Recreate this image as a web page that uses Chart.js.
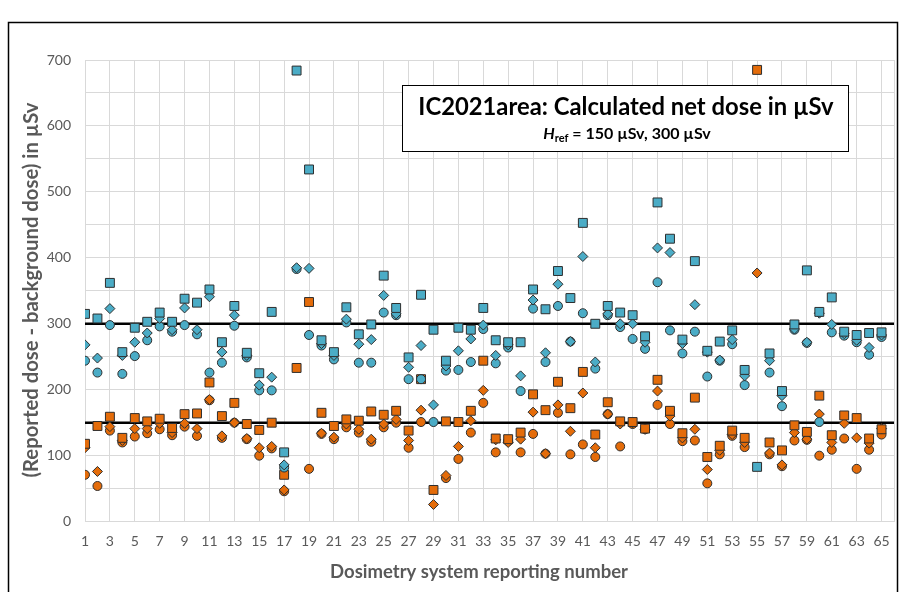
<!DOCTYPE html>
<html><head><meta charset="utf-8">
<script src="https://cdn.jsdelivr.net/npm/chart.js@4.4.0/dist/chart.umd.min.js"></script>
<style>html,body{margin:0;padding:0;background:#fff;}#wrap{width:905px;height:592px;}</style>
</head><body><div id="wrap"><canvas id="c" width="905" height="592"></canvas></div>
<script>
// ---- data ----
const systems = [1,2,3,4,5,6,7,8,9,10,11,12,13,14,15,16,17,18,19,20,21,22,23,24,25,26,27,28,29,30,31,32,33,34,35,36,37,38,39,40,41,42,43,44,45,46,47,48,49,50,51,52,53,54,55,56,57,58,59,60,61,62,63,64,65];
// Href = 300 µSv (blue)
const h300Square  = [315,308,362,257,294,303,317,303,338,332,352,272,327,256,225,318,105,684,534,275,257,325,284,299,373,324,249,344,291,244,294,291,324,275,272,272,352,322,380,339,453,300,327,317,313,281,484,429,276,395,259,273,290,230,83,255,198,299,381,318,340,288,283,286,287];
const h300Diamond = [268,248,323,252,272,286,308,291,324,291,341,257,313,252,207,219,86,385,384,270,252,307,269,276,343,315,234,267,177,236,259,277,298,252,268,221,336,256,360,273,402,242,315,300,300,272,415,408,270,329,257,245,276,221,null,244,191,292,272,316,299,285,275,264,283];
const h300Circle  = [244,226,298,224,251,275,296,288,298,284,226,241,297,249,199,199,82,383,283,267,246,302,241,241,317,313,216,216,151,229,230,242,292,240,264,198,323,242,327,273,316,232,313,295,277,262,363,290,255,288,220,244,269,207,null,226,175,291,271,151,287,282,272,253,280];
// Href = 150 µSv (orange)
const h150Square  = [118,145,159,127,157,152,156,142,163,164,211,160,180,148,139,150,71,233,333,165,145,155,153,167,162,168,138,216,48,152,151,168,244,126,125,135,193,169,212,172,227,132,181,152,151,141,215,168,134,188,98,115,138,127,685,120,108,146,136,191,131,161,157,126,140];
const h150Diamond = [112,76,144,123,141,141,149,135,149,141,185,130,150,126,112,114,48,null,null,134,128,148,140,125,148,155,123,169,26,70,114,153,199,124,120,125,166,103,177,137,195,112,163,148,150,140,198,160,127,140,79,108,132,120,377,104,86,135,125,163,120,149,127,119,141];
const h150Circle  = [71,54,138,120,129,134,140,131,144,130,184,127,150,125,100,111,46,null,80,133,125,143,135,121,143,150,112,151,null,66,95,135,180,105,122,105,133,103,165,102,117,98,163,114,148,140,177,148,122,123,58,102,130,113,null,102,84,123,124,100,109,126,80,109,132];
const referenceDoses = [150, 300];
const xTicks = [1,3,5,7,9,11,13,15,17,19,21,23,25,27,29,31,33,35,37,39,41,43,45,47,49,51,53,55,57,59,61,63,65];
const yTicks = [0,100,200,300,400,500,600,700];
const titleText = 'IC2021area: Calculated net dose in µSv';
const xTitle = 'Dosimetry system reporting number';
const yTitle = '(Reported dose - background dose) in µSv';

const BLUE = '#4BACC6', ORANGE = '#E46C0A', EDGE = '#2e2e2e', GRID = '#d9d9d9', TXT = '#595959';
const FONT = 'Lato, "Open Sans", sans-serif';

const pts = arr => systems.map((s, i) => ({x: s, y: arr[i]})).filter(p => p.y !== null);
function series(label, arr, color, style, r) {
  return {type: 'scatter', label, data: pts(arr), backgroundColor: color, borderColor: EDGE,
    borderWidth: 1, pointStyle: style, pointRadius: r, pointHoverRadius: r, order: 1};
}
const datasets = [
  series('300 square', h300Square, BLUE, 'rect', 6.3),
  series('300 diamond', h300Diamond, BLUE, 'rectRot', 5),
  series('300 circle', h300Circle, BLUE, 'circle', 4.5),
  series('150 square', h150Square, ORANGE, 'rect', 6.3),
  series('150 diamond', h150Diamond, ORANGE, 'rectRot', 5),
  series('150 circle', h150Circle, ORANGE, 'circle', 4.5),
];
referenceDoses.forEach(v => datasets.push({type: 'line', label: 'ref ' + v,
  data: [{x: 1, y: v}, {x: 66, y: v}], borderColor: '#000', borderWidth: 2.5,
  pointRadius: 0, fill: false, order: 10}));

function fitFont(ctx, text, weight, size, target) {
  ctx.font = weight + ' ' + size + 'px ' + FONT;
  const w = ctx.measureText(text).width;
  return size * target / w;
}

const decor = {
  id: 'decor',
  afterDraw(chart) {
    const ctx = chart.ctx;
    ctx.save();
    // outer frame
    ctx.strokeStyle = '#000'; ctx.lineWidth = 1.5;
    ctx.strokeRect(8.5, 22.5, 889, 600);
    // title box
    ctx.fillStyle = '#fff'; ctx.fillRect(402, 85, 446, 66);
    ctx.strokeStyle = '#000'; ctx.lineWidth = 1;
    ctx.strokeRect(402.5, 85.5, 446, 66);
    ctx.fillStyle = '#000'; ctx.textAlign = 'center'; ctx.textBaseline = 'middle';
    let fs = fitFont(ctx, titleText, 'bold', 20, 415);
    ctx.font = 'bold ' + fs.toFixed(1) + 'px ' + FONT;
    ctx.fillText(titleText, 626, 107);
    // subtitle: H_ref = 150 µSv, 300 µSv
    const parts = [
      {t: 'H', f: 'italic bold 16px ' + FONT, dy: 0},
      {t: 'ref', f: 'bold 11px ' + FONT, dy: 4},
      {t: ' = ' + referenceDoses[0] + ' µSv, ' + referenceDoses[1] + ' µSv', f: 'bold 16px ' + FONT, dy: 0}
    ];
    let total = 0;
    parts.forEach(p => { ctx.font = p.f; p.w = ctx.measureText(p.t).width; total += p.w; });
    let x = 627 - total / 2;
    ctx.textAlign = 'left';
    parts.forEach(p => { ctx.font = p.f; ctx.fillText(p.t, x, 134 + p.dy); x += p.w; });
    // axis titles
    ctx.fillStyle = TXT; ctx.textAlign = 'center';
    fs = fitFont(ctx, xTitle, 'bold', 18, 298);
    ctx.font = 'bold ' + fs.toFixed(1) + 'px ' + FONT;
    ctx.fillText(xTitle, 479, 572);
    fs = fitFont(ctx, yTitle, 'bold', 18, 375);
    ctx.font = 'bold ' + fs.toFixed(1) + 'px ' + FONT;
    ctx.translate(31, 290); ctx.rotate(-Math.PI / 2);
    ctx.fillText(yTitle, 0, 0);
    ctx.restore();
  }
};

new Chart(document.getElementById('c'), {
  data: {datasets},
  options: {
    responsive: false, animation: false, devicePixelRatio: 1,
    layout: {padding: {top: 60, right: 10, left: 0, bottom: 0}},
    plugins: {legend: {display: false}, tooltip: {enabled: false}},
    scales: {
      x: {type: 'linear', min: 1, max: 66,
        afterBuildTicks: s => { s.ticks = xTicks.concat([66]).map(v => ({value: v})); },
        afterFit: s => { s.height = 70.4; },
        ticks: {autoSkip: false, maxRotation: 0, padding: 11, color: TXT,
          font: {family: FONT, size: 14}, callback: v => xTicks.includes(v) ? String(v) : ''},
        grid: {color: GRID, lineWidth: 1, drawTicks: false},
        border: {color: GRID, width: 1}},
      y: {type: 'linear', min: 0, max: 700,
        afterBuildTicks: s => { const t = []; for (let v = 0; v <= 700; v += 50) t.push({value: v}); s.ticks = t; },
        afterFit: s => { s.width = 85; },
        ticks: {padding: 14, color: TXT, font: {family: FONT, size: 14},
          callback: v => yTicks.includes(v) ? String(v) : ''},
        grid: {color: GRID, lineWidth: 1, drawTicks: false},
        border: {color: GRID, width: 1}}
    }
  },
  plugins: [decor]
});
</script></body></html>
